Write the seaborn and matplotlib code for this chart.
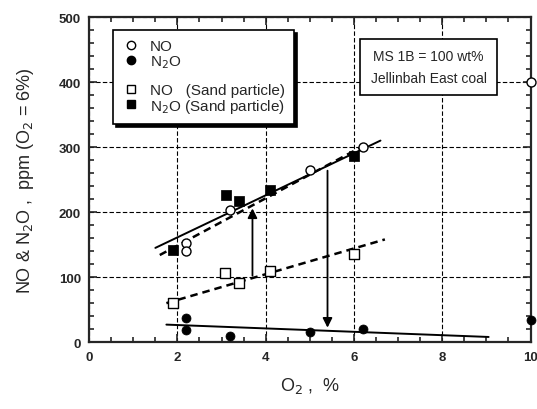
import matplotlib
matplotlib.use("Agg")
import matplotlib.pyplot as plt
import seaborn as sns
from matplotlib.lines import Line2D
from matplotlib.ticker import MultipleLocator

# NO (open circles)
no_x = [2.2, 2.2, 3.2, 5.0, 6.2, 10.0]
no_y = [153, 140, 203, 265, 300, 400]
# N2O (filled circles)
n2o_x = [2.2, 2.2, 3.2, 5.0, 6.2, 10.0]
n2o_y = [37, 18, 9, 16, 20, 34]
# NO (sand particle, open squares)
no_sand_x = [1.9, 3.07, 3.4, 4.1, 6.0]
no_sand_y = [60, 106, 91, 109, 136]
# N2O (sand particle, filled squares)
n2o_sand_x = [1.9, 3.1, 3.4, 4.1, 6.0]
n2o_sand_y = [142, 226, 217, 234, 287]

# trend lines (end points)
fit_no_x, fit_no_y = [1.6, 6.3], [134, 305]            # dashed, NO
fit_n2o_sand_x, fit_n2o_sand_y = [1.5, 6.6], [145, 310]  # solid, N2O sand
fit_no_sand_x, fit_no_sand_y = [1.75, 6.7], [60, 158]    # dashed, NO sand
fit_n2o_x, fit_n2o_y = [1.75, 9.05], [27, 8]             # solid, N2O

sns.set_style("ticks")
plt.rcParams['font.family'] = ['Liberation Sans', 'DejaVu Sans']

fig = plt.figure(figsize=(5.37, 4.10), dpi=100)
ax = fig.add_axes([0.166, 0.163, 0.822, 0.793])

# lines
sns.lineplot(x=fit_no_x, y=fit_no_y, ax=ax, color="black", lw=1.8, linestyle=(0, (3, 2)))
sns.lineplot(x=fit_n2o_sand_x, y=fit_n2o_sand_y, ax=ax, color="black", lw=1.4)
sns.lineplot(x=fit_no_sand_x, y=fit_no_sand_y, ax=ax, color="black", lw=1.8, linestyle=(0, (3, 2)))
sns.lineplot(x=fit_n2o_x, y=fit_n2o_y, ax=ax, color="black", lw=1.4)

# points
ms = 42
sns.scatterplot(x=no_x, y=no_y, ax=ax, marker="o", s=ms, facecolor="white", edgecolor="black", linewidth=1.0, zorder=5, clip_on=False)
sns.scatterplot(x=n2o_x, y=n2o_y, ax=ax, marker="o", s=ms, color="black", edgecolor="black", zorder=5, clip_on=False)
sns.scatterplot(x=no_sand_x, y=no_sand_y, ax=ax, marker="s", s=ms, facecolor="white", edgecolor="black", linewidth=1.0, zorder=5)
sns.scatterplot(x=n2o_sand_x, y=n2o_sand_y, ax=ax, marker="s", s=ms, color="black", edgecolor="black", zorder=5)

# arrows
ax.annotate("", xy=(3.7, 210), xytext=(3.7, 98),
            arrowprops=dict(arrowstyle="-|>", color="black", lw=1.3, mutation_scale=14))
ax.annotate("", xy=(5.4, 18), xytext=(5.4, 268),
            arrowprops=dict(arrowstyle="-|>", color="black", lw=1.3, mutation_scale=14))

ax.set_xlim(0, 10)
ax.set_ylim(0, 500)
ax.xaxis.set_major_locator(MultipleLocator(2))
ax.xaxis.set_minor_locator(MultipleLocator(0.5))
ax.yaxis.set_major_locator(MultipleLocator(100))
ax.yaxis.set_minor_locator(MultipleLocator(20))
ax.tick_params(which="both", direction="in", top=True, right=True, width=1.2, labelsize=9.5)
ax.tick_params(which="major", length=6, pad=6)
ax.tick_params(which="minor", length=3.5)
for lab in ax.get_xticklabels() + ax.get_yticklabels():
    lab.set_fontweight("bold")
for sp in ax.spines.values():
    sp.set_linewidth(1.6)
    sp.set_visible(True)
ax.grid(True, which="major", color="black", linestyle=(0, (4, 2)), lw=0.8)

ax.set_xlabel("O$_2$ ,  %", fontsize=13, labelpad=9)
ax.set_ylabel("NO & N$_2$O ,  ppm (O$_2$ = 6%)", fontsize=13, labelpad=16)

# legend
handles = [
    Line2D([], [], marker="o", ls="", mfc="white", mec="black", ms=6),
    Line2D([], [], marker="o", ls="", mfc="black", mec="black", ms=6),
    Line2D([], [], ls="", marker=""),
    Line2D([], [], marker="s", ls="", mfc="white", mec="black", ms=6),
    Line2D([], [], marker="s", ls="", mfc="black", mec="black", ms=6),
]
labels = ["NO", "N$_2$O", "", "NO   (Sand particle)", "N$_2$O (Sand particle)"]
leg = ax.legend(handles, labels, loc="upper left", bbox_to_anchor=(0.054, 0.96), borderaxespad=0,
                fontsize=11, frameon=True, fancybox=False, edgecolor="black", framealpha=1,
                handlelength=1.2, handletextpad=0.6, labelspacing=-0.02, borderpad=0.6,
                shadow={"color": "black", "alpha": 1})
leg.get_frame().set_linewidth(1.2)

ax.text(0.769, 0.846, "MS 1B = 100 wt%\n\nJellinbah East coal", transform=ax.transAxes,
        ha="center", va="center", fontsize=10, linespacing=0.72,
        bbox=dict(boxstyle="square,pad=0.75", facecolor="white", edgecolor="black", lw=1.2), zorder=6)

fig.savefig("out.png", dpi=100)
